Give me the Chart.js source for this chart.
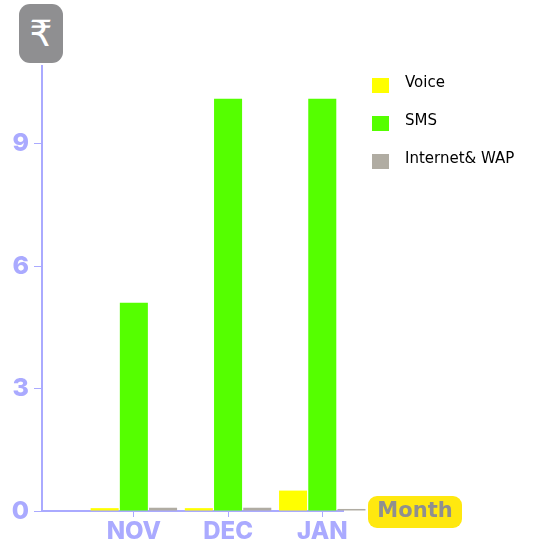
<!DOCTYPE html>
<html>
<head>
<meta charset="utf-8">
<script src="https://cdn.jsdelivr.net/npm/chart.js@4"></script>
<style>
  body { margin: 0; background: #fff; }
  #wrap { position: relative; width: 533px; height: 547px; overflow: hidden; }
  #rupee { position: absolute; left: 19px; top: 4px; width: 44px; height: 59px; border-radius: 11px; background: #8f8f91;
    color: #fff; font: 400 36px "DejaVu Sans", sans-serif; line-height: 60px; text-align: center; }
  #month { position: absolute; left: 368px; top: 496px; width: 94px; height: 32px; border-radius: 9px; background: #ffe80f;
    color: #8f8f8f; font: 700 21px "DejaVu Sans", sans-serif; line-height: 28px; text-align: center; }
  .leg { position: absolute; left: 372px; width: 160px; font: 400 15px "DejaVu Sans", sans-serif; color: #000; }
  .leg i { position: absolute; left: 0; top: 5px; width: 17px; height: 15px; }
  .leg span { position: absolute; left: 33px; top: 0; white-space: nowrap; }
</style>
</head>
<body>
<div id="wrap">
  <canvas id="myChart" width="533" height="547"></canvas>
  <div id="rupee">₹</div>
  <div id="month">Month</div>
</div>
<script>
const months = ['NOV', 'DEC', 'JAN'];
const voice = [0.07, 0.07, 0.5];
const sms = [5.1, 10.1, 10.1];
const internet = [0.08, 0.08, 0.05];

const axisColor = '#aaaaff';

// months sit at x = 1, 2, 3 so the axis can start with an empty slot
function points(values) {
  return values.map((v, i) => ({ x: i + 1, y: v }));
}

const chart = new Chart(document.getElementById('myChart'), {
  type: 'bar',
  data: {
    datasets: [
      { label: 'Voice', data: points(voice), backgroundColor: '#ffff00', clip: false },
      { label: 'SMS', data: points(sms), backgroundColor: '#55ff00', clip: false },
      { label: 'Internet& WAP', data: points(internet), backgroundColor: '#b0aca2', clip: false }
    ]
  },
  options: {
    responsive: false,
    animation: false,
    layout: { padding: { top: 66, right: 190 } },
    datasets: { bar: { categoryPercentage: 0.93, barPercentage: 0.96 } },
    plugins: { legend: { display: false }, tooltip: { enabled: false } },
    scales: {
      x: {
        type: 'linear',
        offset: false,
        min: 0.025,
        max: 3.22,
        afterFit: s => { s.height = 36; },
        afterBuildTicks: s => { s.ticks = s.ticks.filter(t => t.value > 0.5); },
        grid: { offset: false, drawOnChartArea: false, color: axisColor, tickLength: 6 },
        border: { color: axisColor, width: 2 },
        ticks: {
          stepSize: 1,
          includeBounds: false,
          padding: 0,
          maxRotation: 0,
          color: axisColor,
          font: { family: 'Inter', size: 24, weight: '800' },
          callback: v => months[v - 1] || ''
        }
      },
      y: {
        min: 0,
        max: 10.9,
        afterFit: s => { s.width = 42; },
        grid: { drawOnChartArea: false, color: axisColor, tickLength: 8 },
        border: { color: axisColor, width: 2 },
        ticks: { stepSize: 3, includeBounds: false, padding: 5, color: axisColor, font: { family: 'Inter', size: 25, weight: '800' } }
      }
    }
  }
});

// legend built from the chart's own datasets
const wrap = document.getElementById('wrap');
chart.data.datasets.forEach((ds, i) => {
  const row = document.createElement('div');
  row.className = 'leg';
  row.style.top = (73 + i * 38) + 'px';
  row.innerHTML = `<i style="background:${ds.backgroundColor}"></i><span>${ds.label}</span>`;
  wrap.appendChild(row);
});
</script>
</body>
</html>
